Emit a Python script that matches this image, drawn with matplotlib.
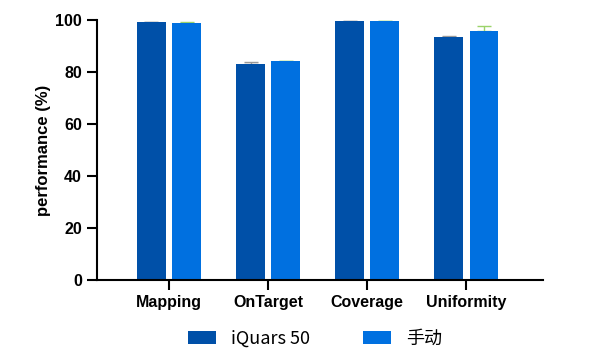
import matplotlib
matplotlib.use("Agg")
import matplotlib.pyplot as plt
import numpy as np

categories = ["Mapping", "OnTarget", "Coverage", "Uniformity"]
series_names = ["iQuars 50", "手动"]
iquars = [99.1, 83.0, 99.6, 93.5]
iquars_err = [0.1, 1.0, 0.1, 0.2]
manual = [99.0, 84.1, 99.6, 95.8]
manual_err = [0.2, 0.1, 0.1, 2.0]
yticks = [0, 20, 40, 60, 80, 100]

plt.rcParams['font.family'] = ['Liberation Sans', 'DejaVu Sans']

fig = plt.figure(figsize=(6.0, 3.64), dpi=100)
ax = fig.add_axes([0.161, 0.2308, 0.9045 - 0.161, 0.945 - 0.2308])

x = np.arange(len(categories))
w = 0.29
off = 0.177
dark = "#0050A8"
light = "#0070E0"

b1 = ax.bar(x - off, iquars, width=w, color=dark, label=series_names[0], zorder=2)
b2 = ax.bar(x + off, manual, width=w, color=light, label=series_names[1], zorder=2)
ax.errorbar(x - off, iquars, yerr=[np.zeros(4), iquars_err], fmt="none",
            ecolor="#999999", elinewidth=1, capsize=5, capthick=1, zorder=1)
ax.errorbar(x + off, manual, yerr=[np.zeros(4), manual_err], fmt="none",
            ecolor="#9BD36A", elinewidth=1, capsize=5, capthick=1, zorder=1)

ax.set_xlim(-0.73, 3.77)
ax.set_ylim(0, 100)
ax.set_yticks(yticks)
ax.set_xticks(x)
ax.set_xticklabels(categories, fontsize=11.5, fontweight="bold")
for lab in ax.get_yticklabels():
    lab.set_fontsize(11.5)
    lab.set_fontweight("bold")
ax.set_ylabel("performance (%)", fontsize=12, fontweight="bold", labelpad=3)

for s in ["top", "right"]:
    ax.spines[s].set_visible(False)
for s in ["left", "bottom"]:
    ax.spines[s].set_linewidth(1.5)
ax.tick_params(axis="both", direction="out", length=7.5, width=1.5, pad=3)

leg = fig.legend(handles=[b1, b2], labels=series_names, loc="center left",
                 bbox_to_anchor=(188 / 600, 1 - 339 / 364), ncol=2, frameon=False,
                 prop={"family": ["Noto Sans CJK SC", "DejaVu Sans"], "size": 13},
                 handlelength=1.55, handleheight=0.72, handletextpad=0.85,
                 columnspacing=2.9, borderpad=0, borderaxespad=0)

fig.savefig("out.png", dpi=100)
